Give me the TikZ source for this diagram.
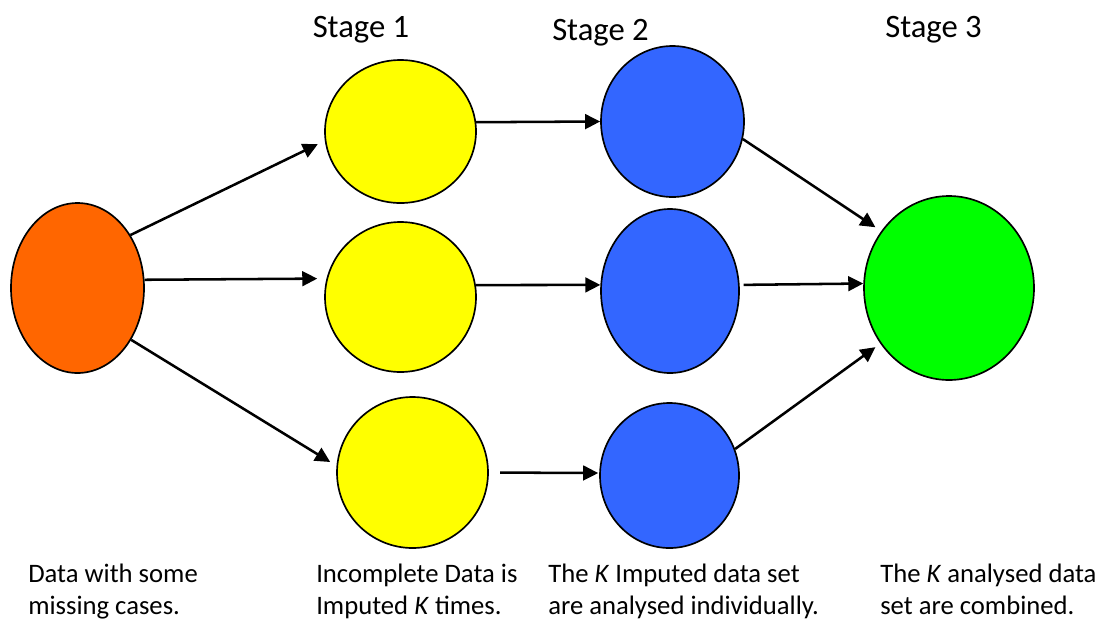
\documentclass[tikz,border=0pt]{standalone}
\usepackage{fontspec}
\setmainfont{Carlito}
\usetikzlibrary{shapes.geometric,arrows.meta}
\newlength{\pxu}\setlength{\pxu}{0.75pt}
\definecolor{orangec}{HTML}{FF6600}
\definecolor{yel}{HTML}{FFFF00}
\definecolor{blu}{HTML}{3366FF}
\definecolor{grn}{HTML}{00FF00}
\begin{document}
\begin{tikzpicture}[x=0.75pt,y=-0.75pt,
  blob/.style={ellipse, draw=black, line width=1.25pt, inner sep=0pt},
  arr/.style={-{Triangle[length=11.25pt,width=11pt]}, line width=1.9pt, draw=black},
  stagelbl/.style={font=\fontsize{24.5pt}{29pt}\selectfont, inner sep=0pt, anchor=base},
  note/.style={font=\fontsize{20pt}{24pt}\selectfont, inner sep=0pt, anchor=base west, align=left}]
\useasboundingbox (0,0) rectangle (1100,619);

\node[blob, fill=orangec, minimum width=133\pxu, minimum height=170\pxu] (o) at (77.5,288) {};
\node[blob, fill=yel, minimum width=151\pxu, minimum height=143\pxu] (y1) at (400.5,131.5) {};
\node[blob, fill=yel, minimum width=151\pxu, minimum height=150\pxu] (y2) at (400.5,297) {};
\node[blob, fill=yel, minimum width=151\pxu, minimum height=151\pxu] (y3) at (412.5,472.5) {};
\node[blob, fill=blu, minimum width=143\pxu, minimum height=151\pxu] (b1) at (672.5,121.5) {};
\node[blob, fill=blu, minimum width=138\pxu, minimum height=164\pxu] (b2) at (670,291) {};
\node[blob, fill=blu, minimum width=139\pxu, minimum height=145\pxu] (b3) at (669.5,475.5) {};
\node[blob, fill=grn, minimum width=170\pxu, minimum height=184\pxu] (g) at (949,288) {};

\draw[arr, shorten >=5.85pt] (o.45.8) -- (y1.187.25);
\draw[arr, shorten >=6.9pt] (o.7.76) -- (y2.166.2);
\draw[arr, shorten >=5.5pt] (o.-44.7) -- (y3.175.1);
\draw[arr] (y1.7.2) -- (b1.180);
\draw[arr] (y2.9.1) -- (b2.175);
\draw[arr, shorten <=8.5pt, shorten >=0.75pt] (y3.0) -- (b3.178.4);
\draw[arr, shorten >=5.2pt] (b1.-14.7) -- (g.140.6);
\draw[arr, shorten <=3pt] (b2.5.8) -- (g.177.3);
\draw[arr, shorten >=4.5pt] (b3.22) -- (g.219.8);

\node[stagelbl] (s1) at (361,37) {Stage 1};
\node[stagelbl] (s2) at (600.5,40) {Stage 2};
\node[stagelbl] (s3) at (933.5,37) {Stage 3};

\node[note] (t0) at (28,614) {Data with some\\missing cases.};
\node[note] (t1) at (316,614) {Incomplete Data is\\Imputed \textit{K} times.};
\node[note] (t2) at (548,614) {The \textit{K} Imputed data set\\are analysed individually.};
\node[note] (t3) at (880,614) {The \textit{K} analysed data\\set are combined.};
\end{tikzpicture}
\end{document}
